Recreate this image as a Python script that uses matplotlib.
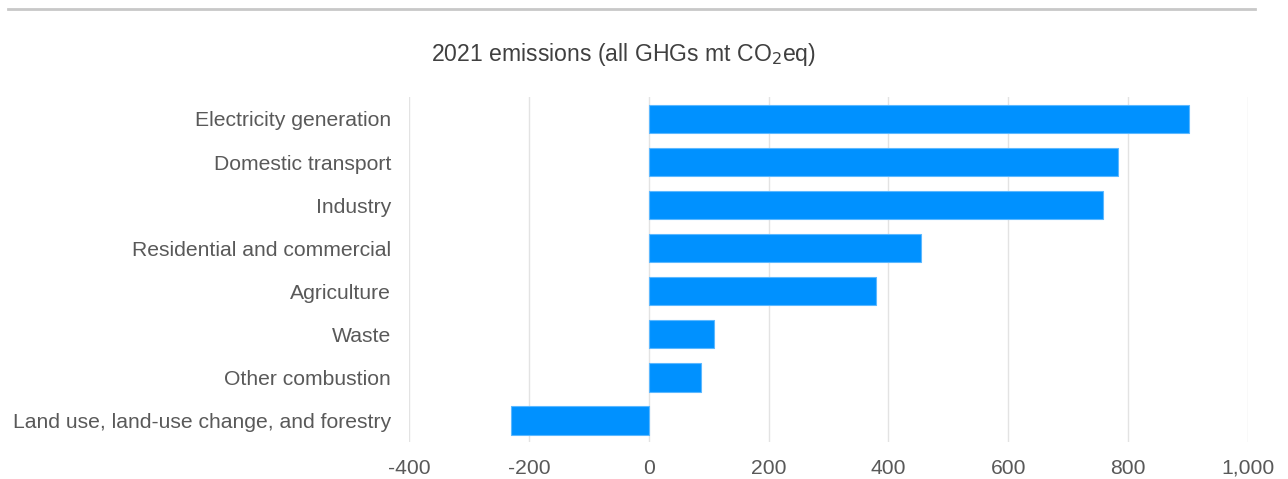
import numpy as np
import matplotlib.pyplot as plt
from matplotlib.lines import Line2D

# 2021 emissions by sector, all GHGs in mt CO2eq
sectors = ['Electricity generation', 'Domestic transport', 'Industry',
           'Residential and commercial', 'Agriculture', 'Waste',
           'Other combustion', 'Land use, land-use change, and forestry']
emissions = [902, 783, 758, 455, 379, 109, 88, -229]
xticks = [-400, -200, 0, 200, 400, 600, 800, 1000]

plt.rcParams['font.family'] = ['Liberation Sans', 'DejaVu Sans']

fig = plt.figure(figsize=(12.88, 4.79), dpi=100)
ax = fig.add_axes([0.3175, 0.078, 0.6515, 0.7185])

y = np.arange(len(sectors))
ax.barh(y, emissions, height=0.67, color='#0091ff', edgecolor='#5cb8ff',
        linewidth=0.8, zorder=3)
ax.set_ylim(len(sectors) - 0.5, -0.5)
ax.set_xlim(-400, 1000)
ax.set_yticks(y)
ax.set_yticklabels(sectors)
ax.set_xticks(xticks)
ax.set_xticklabels(['{:,}'.format(v) for v in xticks])
ax.tick_params(axis='both', length=0, labelsize=15.2, labelcolor='#595959')
ax.tick_params(axis='y', pad=13)
ax.tick_params(axis='x', pad=12.5)
ax.grid(axis='x', color='#e3e3e3', linewidth=1, zorder=0)
for s in ax.spines.values():
    s.set_visible(False)

fig.text(0.484, 0.886, r'2021 emissions (all GHGs mt CO$_2$eq)', ha='center',
         va='center', fontsize=16.6, color='#404040')

# thin rule across the top
fig.add_artist(Line2D([0.006, 0.974], [0.982, 0.982], color='#c8c8c8',
                      linewidth=2, transform=fig.transFigure))

fig.savefig('out.png', dpi=100, facecolor='white')
